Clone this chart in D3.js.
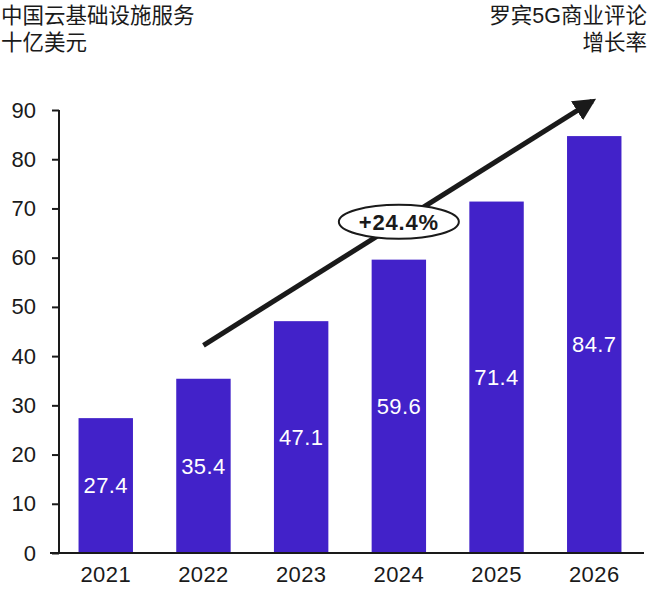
<!DOCTYPE html>
<html><head><meta charset="utf-8">
<script src="https://cdn.jsdelivr.net/npm/d3@7"></script>
<style>body{margin:0;background:#fff}svg{display:block}</style>
</head><body>
<script>
const years = ["2021","2022","2023","2024","2025","2026"];
const values = [27.4,35.4,47.1,59.6,71.4,84.7];
const yTicks = [0,10,20,30,40,50,60,70,80,90];
const growthLabel = "+24.4%";
const titleLeft = ["中国云基础设施服务","十亿美元"];
const titleRight = ["罗宾5G商业评论","增长率"];

const W=651,H=595;
const font = "'Liberation Sans', Arial, 'Noto Sans CJK SC', sans-serif";
const svg=d3.select("body").append("svg").attr("width",W).attr("height",H);

const x=d3.scaleBand().domain(years).range([59,641]).paddingInner(0.443).paddingOuter(0.2);
const y=d3.scaleLinear().domain([0,90]).range([553,110]);

// titles
svg.append("g").selectAll("text").data(titleLeft).join("text")
  .attr("x",1).attr("y",(d,i)=>23+i*27).text(d=>d)
  .attr("font-family",font).attr("font-size",21.5).attr("fill","#1a1a1a");
svg.append("g").selectAll("text").data(titleRight).join("text")
  .attr("x",647).attr("y",(d,i)=>23+i*27).attr("text-anchor","end").text(d=>d)
  .attr("font-family",font).attr("font-size",21.5).attr("fill","#1a1a1a");

// bars
svg.append("g").selectAll("rect").data(values).join("rect")
  .attr("x",(d,i)=>x(years[i])).attr("width",x.bandwidth())
  .attr("y",d=>y(d)).attr("height",d=>y(0)-y(d)).attr("fill","#4222c9");

svg.append("g").selectAll("text").data(values).join("text")
  .attr("x",(d,i)=>x(years[i])+x.bandwidth()/2).attr("y",d=>(y(d)+y(0))/2)
  .attr("dy","0.35em").attr("text-anchor","middle").attr("fill","#fff")
  .attr("font-family",font).attr("font-size",22).attr("letter-spacing",0.4).text(d=>d.toFixed(1));

// y axis
const ya=svg.append("g").attr("transform","translate(59,0)")
  .call(d3.axisLeft(y).tickValues(yTicks).tickSize(7).tickPadding(16).tickSizeOuter(0));
ya.select(".domain").attr("stroke","#1a1a1a").attr("stroke-width",2).attr("d","M0,553V110");
ya.selectAll(".tick line").attr("stroke","#1a1a1a").attr("stroke-width",2);
ya.selectAll(".tick text").attr("font-family",font).attr("font-size",22).attr("fill","#1a1a1a");

// x axis
const xa=svg.append("g").attr("transform","translate(0,553)")
  .call(d3.axisBottom(x).tickSize(0).tickPadding(13));
xa.select(".domain").attr("stroke","#1a1a1a").attr("stroke-width",2).attr("d","M50,0H644");
xa.selectAll(".tick text").attr("font-family",font).attr("font-size",22).attr("letter-spacing",0.4).attr("fill","#1a1a1a");

// arrow
const defs=svg.append("defs");
defs.append("marker").attr("id","ah").attr("viewBox","0 0 10 10").attr("refX",8).attr("refY",5)
  .attr("markerWidth",4.5).attr("markerHeight",4.5).attr("orient","auto")
  .append("path").attr("d","M0,0L10,5L0,10z").attr("fill","#1a1a1a");
const x0=x("2022")+x.bandwidth()/2, x1=x("2026")+x.bandwidth()/2;
svg.append("line").attr("x1",x0-0).attr("y1",y(42.2)).attr("x2",x1-2).attr("y2",y(91.8))
  .attr("stroke","#1a1a1a").attr("stroke-width",5).attr("marker-end","url(#ah)");

const cx=x("2024")+x.bandwidth()/2, cy=y(67.3);
svg.append("ellipse").attr("cx",cx).attr("cy",cy).attr("rx",60).attr("ry",17)
  .attr("fill","#fff").attr("stroke","#1a1a1a").attr("stroke-width",2);
svg.append("text").attr("x",cx).attr("y",cy).attr("dy","0.36em").attr("text-anchor","middle")
  .attr("font-family",font).attr("font-weight","bold").attr("font-size",22).attr("letter-spacing",0.8).attr("fill","#1a1a1a")
  .text(growthLabel);
</script>
</body></html>
